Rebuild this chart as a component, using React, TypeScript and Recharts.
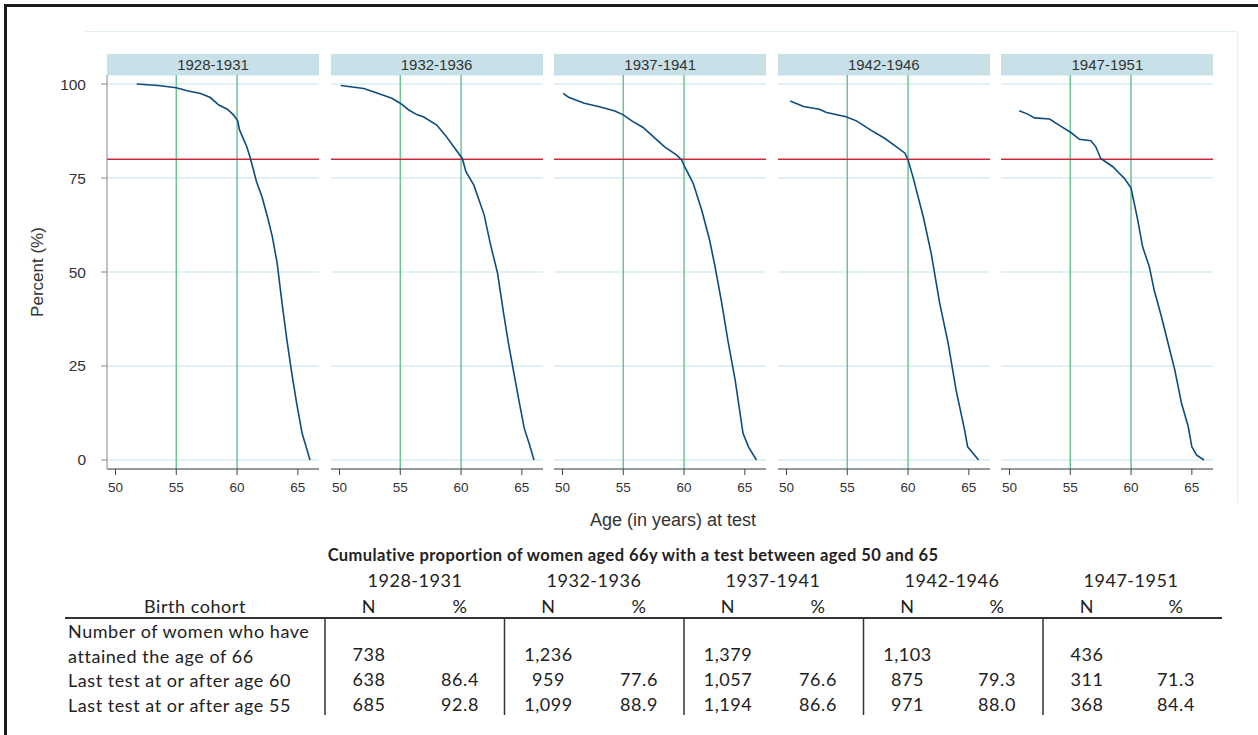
import React from 'react';
import { LineChart, Line, XAxis, YAxis, CartesianGrid, ReferenceLine } from 'recharts';

// ---------- data ----------
const cohorts = ['1928-1931', '1932-1936', '1937-1941', '1942-1946', '1947-1951'];

const age_1928_1931 = [51.75, 53.5, 55.0, 55.9, 57.0, 57.8, 58.5, 59.2, 59.7, 60.05, 60.2, 60.8, 61.1, 61.6, 62.05, 62.5, 62.9, 63.3, 63.7, 64.1, 64.5, 64.9, 65.35, 65.6, 66.0];
const pct_1928_1931 = [100, 99.6, 99.0, 98.2, 97.5, 96.4, 94.4, 93.3, 91.8, 90.2, 87.8, 83.3, 80.2, 74.0, 70.0, 64.7, 59.4, 52.3, 41.7, 31.9, 23.1, 15.1, 7.1, 4.4, 0];

const age_1932_1936 = [50.1, 52.0, 53.2, 54.3, 55.0, 55.7, 56.4, 56.9, 58.0, 58.7, 59.4, 60.1, 60.4, 61.05, 61.9, 62.4, 63.0, 63.5, 63.9, 64.3, 64.8, 65.2, 65.6, 66.0];
const pct_1932_1936 = [99.6, 98.8, 97.5, 96.2, 94.9, 93.1, 91.8, 91.3, 89.1, 86.4, 83.3, 80.2, 76.7, 73.1, 65.2, 57.6, 49.7, 39.0, 31.0, 23.9, 15.1, 8.4, 4.4, 0];

const age_1937_1941 = [50.05, 50.5, 51.8, 53.2, 54.3, 55.0, 55.7, 56.6, 57.4, 58.4, 59.4, 59.8, 60.05, 60.75, 61.45, 62.1, 62.55, 63.1, 63.6, 64.2, 64.85, 65.3, 65.95];
const pct_1937_1941 = [97.5, 96.5, 94.9, 93.8, 92.8, 91.8, 90.2, 88.5, 86.2, 83.3, 81.1, 79.8, 78.0, 73.6, 66.5, 58.5, 51.4, 41.7, 31.9, 21.3, 7.1, 3.5, 0];

const age_1942_1946 = [50.3, 51.4, 52.7, 53.3, 54.9, 55.75, 56.9, 58.1, 59.05, 59.75, 60.0, 60.4, 61.25, 61.9, 62.6, 63.3, 63.95, 64.65, 64.9, 65.8];
const pct_1942_1946 = [95.5, 94.0, 93.3, 92.4, 91.3, 90.2, 87.8, 85.5, 83.3, 81.6, 79.8, 75.3, 64.7, 55.0, 41.7, 31.0, 18.6, 8.0, 3.5, 0];

const age_1947_1951 = [50.8, 51.5, 52.05, 53.3, 54.2, 55.05, 55.75, 56.7, 57.1, 57.5, 58.5, 59.05, 59.45, 60.0, 60.55, 60.95, 61.5, 61.9, 62.5, 63.05, 63.6, 64.15, 64.7, 65.0, 65.4, 66.0];
const pct_1947_1951 = [92.9, 92.0, 91.0, 90.7, 88.8, 87.1, 85.3, 84.9, 83.3, 80.2, 78.0, 76.2, 74.9, 72.3, 63.8, 56.7, 51.4, 45.2, 38.1, 31.0, 23.9, 15.1, 8.9, 3.5, 1.3, 0];

const cohortAges = [age_1928_1931, age_1932_1936, age_1937_1941, age_1942_1946, age_1947_1951];
const cohortPcts = [pct_1928_1931, pct_1932_1936, pct_1937_1941, pct_1942_1946, pct_1947_1951];

const xTicks = [50, 55, 60, 65];
const yTicks = [0, 25, 50, 75, 100];
const refAges = [55, 60];
const refPct = 80;

const tableTitle = 'Cumulative proportion of women aged 66y with a test between aged 50 and 65';
const rowLabels = ['Number of women who have', 'attained the age of 66', 'Last test at or after age 60', 'Last test at or after age 55'];
const nAttained = ['738', '1,236', '1,379', '1,103', '436'];
const nAfter60 = ['638', '959', '1,057', '875', '311'];
const pctAfter60 = ['86.4', '77.6', '76.6', '79.3', '71.3'];
const nAfter55 = ['685', '1,099', '1,194', '971', '368'];
const pctAfter55 = ['92.8', '88.9', '86.6', '88.0', '84.4'];

// ---------- layout ----------
const PLOT_W = 212;
const PLOT_H = 394;
const PLOT_TOP = 75;
const FIRST_LEFT = 107;
const STEP = 223.6;
const YAX_W = 70;
const chartFont = '"Liberation Sans", Arial, sans-serif';
const tableFont = 'Lato, "Open Sans", sans-serif';

function Panel({ idx }: { idx: number }) {
  const plotLeft = FIRST_LEFT + STEP * idx;
  const data = cohortAges[idx].map((a, i) => ({ age: a, pct: cohortPcts[idx][i] }));
  const showY = idx === 0;
  return (
    <>
      <div
        style={{
          position: 'absolute', left: plotLeft, top: 54, width: PLOT_W, height: 21,
          background: '#c8e1e8', fontFamily: chartFont, fontSize: 15, color: '#333',
          textAlign: 'center', lineHeight: '21px',
        }}
      >
        {cohorts[idx]}
      </div>
      <div style={{ position: 'absolute', left: plotLeft - YAX_W, top: PLOT_TOP }}>
        <LineChart
          width={YAX_W + PLOT_W}
          height={PLOT_H + 30}
          data={data}
          margin={{ top: 0, right: 0, bottom: 0, left: showY ? 0 : YAX_W }}
        >
          <CartesianGrid horizontal vertical={false} stroke="#d9edf2" strokeWidth={1.5} />
          <XAxis
            dataKey="age"
            type="number"
            domain={[49.3, 66.74]}
            ticks={xTicks}
            allowDataOverflow
            height={30}
            stroke="#444"
            tickLine={{ stroke: '#444' }}
            tickSize={6}
            tickMargin={7}
            tick={{ fontSize: 13.5, fill: '#333', fontFamily: chartFont }}
          />
          <YAxis
            hide={!showY}
            width={YAX_W}
            type="number"
            domain={[-2.4, 102.4]}
            ticks={yTicks}
            allowDataOverflow
            stroke="#888"
            tickLine={{ stroke: '#888' }}
            tickSize={6}
            tickMargin={15}
            tick={{ fontSize: 15.5, fill: '#333', fontFamily: chartFont }}
          />
          {refAges.map((a) => (
            <ReferenceLine key={a} x={a} stroke="#6cc495" strokeWidth={1.5} />
          ))}
          <ReferenceLine y={refPct} stroke="#cc2a3c" strokeWidth={1.5} />
          <Line
            type="linear"
            dataKey="pct"
            stroke="#0e4c7e"
            strokeWidth={1.6}
            dot={false}
            activeDot={false}
            isAnimationActive={false}
          />
        </LineChart>
      </div>
    </>
  );
}

function Table() {
  const nX = (i: number) => 369 + 179.5 * i;
  const pX = (i: number) => 460 + 179 * i;
  const hX = (i: number) => 415 + 179 * i;
  const sepX = (i: number) => 325 + 179.5 * i;
  const rows = [
    { y: 654, n: nAttained, p: null as string[] | null },
    { y: 679, n: nAfter60, p: pctAfter60 },
    { y: 704, n: nAfter55, p: pctAfter55 },
  ];
  const tprops = { fontFamily: tableFont, fontSize: 18, letterSpacing: 0.55, fill: '#222', dominantBaseline: 'central' as const };
  return (
    <g>
      <text x={633} y={555} textAnchor="middle" {...tprops} fontSize={16.5} letterSpacing={0.42} fontWeight="bold">{tableTitle}</text>
      {cohorts.map((c, i) => (
        <g key={c}>
          <text x={hX(i)} y={580} textAnchor="middle" {...tprops}>{c}</text>
          <text x={nX(i)} y={606} textAnchor="middle" {...tprops}>N</text>
          <text x={pX(i)} y={606} textAnchor="middle" {...tprops}>%</text>
          <line x1={sepX(i)} x2={sepX(i)} y1={618} y2={715} stroke="#333" strokeWidth={1.5} />
        </g>
      ))}
      <text x={195} y={606} textAnchor="middle" {...tprops}>Birth cohort</text>
      <line x1={65} x2={1222} y1={618} y2={618} stroke="#333" strokeWidth={2} />
      {rowLabels.map((r, i) => (
        <text key={r} x={68} y={631 + 24.5 * i} textAnchor="start" {...tprops}>{r}</text>
      ))}
      {rows.map((row, ri) =>
        cohorts.map((c, i) => (
          <g key={c + ri}>
            <text x={nX(i)} y={row.y} textAnchor="middle" {...tprops}>{row.n[i]}</text>
            {row.p ? <text x={pX(i)} y={row.y} textAnchor="middle" {...tprops}>{row.p[i]}</text> : null}
          </g>
        ))
      )}
    </g>
  );
}

export default function App() {
  return (
    <div style={{ position: 'absolute', left: 0, top: 0, width: 1258, height: 735, background: '#fff', overflow: 'hidden' }}>
      {/* outer frame */}
      <div style={{ position: 'absolute', left: 4, top: 4, width: 1258, height: 735, borderLeft: '3px solid #1a1a1a', borderTop: '3px solid #1a1a1a' }} />
      {/* faint graph region frame */}
      <div style={{ position: 'absolute', left: 85, top: 31, width: 1152, height: 471, borderTop: '1.5px solid #e2eff3', borderRight: '1.5px solid #e2eff3' }} />
      {cohorts.map((c, i) => (
        <Panel key={c} idx={i} />
      ))}
      <svg width={1258} height={735} style={{ position: 'absolute', left: 0, top: 0, pointerEvents: 'none' }}>
        <text
          x={0}
          y={0}
          transform="translate(37,272) rotate(-90)"
          textAnchor="middle"
          dominantBaseline="central"
          fontFamily={chartFont}
          fontSize={17}
          fill="#333"
        >
          Percent (%)
        </text>
        <text x={673} y={520} textAnchor="middle" dominantBaseline="central" fontFamily={chartFont} fontSize={18} fill="#333">
          Age (in years) at test
        </text>
        <Table />
      </svg>
    </div>
  );
}
